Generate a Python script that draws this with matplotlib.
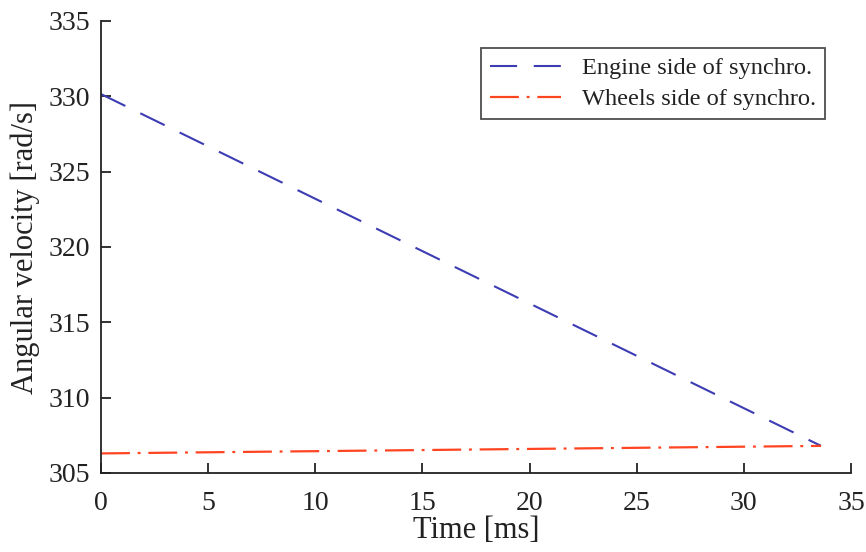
import numpy as np
import matplotlib
matplotlib.use("Agg")
import matplotlib.pyplot as plt

plt.rcParams['font.family'] = ['Liberation Serif', 'DejaVu Serif']

# Synchro angular velocities during the shift
time_ms = [0.0, 33.6]
engine_side = [330.15, 306.8]
wheels_side = [306.3, 306.8]

fig = plt.figure(figsize=(8.66, 5.52), dpi=100)
ax = fig.add_axes([101/866, 1 - 473/552, 750/866, 452/552])

ax.plot(time_ms, engine_side, color='#3c3cb4', lw=1.5, dashes=(13, 8),
        label='Engine side of synchro.')
ax.plot(time_ms, wheels_side, color='#ff4422', lw=1.6, dashes=(13, 3.5, 1.3, 3.5),
        label='Wheels side of synchro.')

ax.set_xlim(0, 35)
ax.set_ylim(305, 335)
ax.set_xticks(np.arange(0, 36, 5))
ax.set_yticks(np.arange(305, 336, 5))
ax.spines['top'].set_visible(False)
ax.spines['right'].set_visible(False)
for s in ('left', 'bottom'):
    ax.spines[s].set_linewidth(1.3)
    ax.spines[s].set_color('#222222')
ax.tick_params(direction='in', length=7, width=1.3, color='#222222',
               labelsize=20, labelcolor='#222222')
ax.tick_params(axis='x', pad=13)
ax.tick_params(axis='y', pad=8)
ax.set_xlabel('Time [ms]', fontsize=22, labelpad=0, color='#222222')
ax.set_ylabel('Angular velocity [rad/s]', fontsize=22, labelpad=6, color='#222222')

leg = ax.legend(loc='upper right', bbox_to_anchor=((825 - 101) / 750, (473 - 48) / 452),
                bbox_transform=ax.transAxes, fontsize=17.6, frameon=True, fancybox=False,
                handlelength=2.9, borderpad=0.38, labelspacing=0.35, handletextpad=0.85,
                borderaxespad=0)
leg.get_frame().set_edgecolor('#222222')
leg.get_frame().set_linewidth(1.3)
for t in leg.get_texts():
    t.set_color('#222222')

fig.savefig('out.png', dpi=100)
